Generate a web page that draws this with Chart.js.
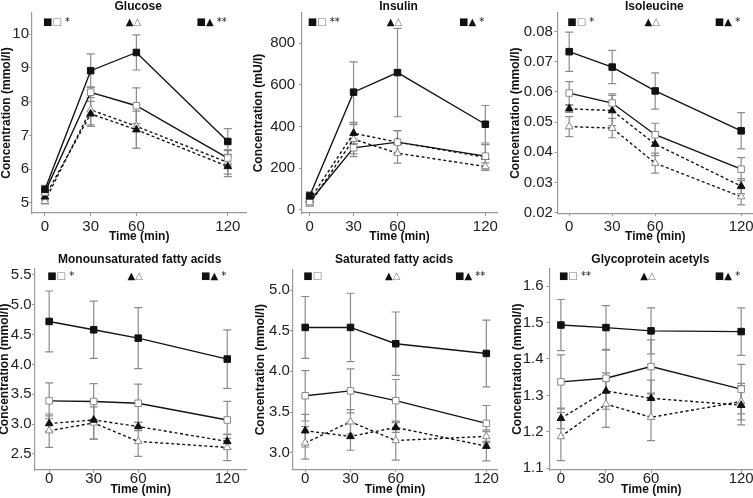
<!DOCTYPE html>
<html><head><meta charset="utf-8">
<script src="https://cdn.jsdelivr.net/npm/chart.js@4.4.1/dist/chart.umd.min.js"></script>
<style>
html,body{margin:0;padding:0;background:#fff;}
#wrap{position:relative;width:753px;height:498px;overflow:hidden;background:#fff;}
#wrap canvas{position:absolute;display:block;}
</style></head><body><div id="wrap"></div>
<script>
// ---------- DATA ----------
const times = [0, 30, 60, 120];
const xTickValues = [0, 30, 60, 120];

const panelTitles = ['Glucose', 'Insulin', 'Isoleucine', 'Monounsaturated fatty acids', 'Saturated fatty acids', 'Glycoprotein acetyls'];
const yAxisTitles = ['Concentration (mmol/l)', 'Concentration (mU/l)', 'Concentration (mmol/l)', 'Concentration (mmol/l)', 'Concentration (mmol/l)', 'Concentration (mmol/l)'];
const xAxisTitle = 'Time (min)';

// significance annotations (left, middle, right)
const glucoseMarks = ['■□ *', '▲△', '■▲ **'];
const insulinMarks = ['■□ **', '▲△', '■▲ *'];
const isoleucineMarks = ['■□ *', '▲△', '■▲ *'];
const monoMarks = ['■□ *', '▲△', '■▲ *'];
const saturatedMarks = ['■□', '▲△', '■▲ **'];
const glycMarks = ['■□ **', '▲△', '■▲ *'];

// y tick values
const glucoseTicks = [5, 6, 7, 8, 9, 10];
const insulinTicks = [0, 200, 400, 600, 800];
const isoleucineTicks = [0.02, 0.03, 0.04, 0.05, 0.06, 0.07, 0.08];
const monoTicks = [2.5, 3.0, 3.5, 4.0, 4.5, 5.0, 5.5];
const saturatedTicks = [3.0, 3.5, 4.0, 4.5, 5.0];
const glycTicks = [1.1, 1.2, 1.3, 1.4, 1.5, 1.6];

// series: FS = filled square, OS = open square, FT = filled triangle, OT = open triangle
const glucoseFS = [5.40, 8.92, 9.46, 6.82];   const glucoseFSerr = [0.12, 0.50, 0.52, 0.38];
const glucoseOS = [5.32, 8.28, 7.88, 6.33];   const glucoseOSerr = [0.10, 0.16, 0.53, 0.25];
const glucoseFT = [5.18, 7.64, 7.17, 6.08];   const glucoseFTerr = [0.10, 0.37, 0.55, 0.30];
const glucoseOT = [5.05, 7.76, 7.27, 6.20];   const glucoseOTerr = [0.08, 0.45, 0.65, 0.35];

const insulinFS = [67, 565, 659, 411];        const insulinFSerr = [20, 145, 212, 90];
const insulinOS = [40, 298, 325, 258];        const insulinOSerr = [12, 42, 55, 55];
const insulinFT = [48, 368, 325, 253];        const insulinFTerr = [12, 50, 55, 62];
const insulinOT = [29, 339, 272, 208];        const insulinOTerr = [10, 70, 48, 18];

const isoleucineFS = [0.0733, 0.0682, 0.0603, 0.0471]; const isoleucineFSerr = [0.0065, 0.0055, 0.0060, 0.0060];
const isoleucineOS = [0.0596, 0.0563, 0.0458, 0.0344]; const isoleucineOSerr = [0.0038, 0.0030, 0.0038, 0.0038];
const isoleucineFT = [0.0544, 0.0538, 0.0427, 0.0288]; const isoleucineFTerr = [0.0012, 0.0050, 0.0038, 0.0025];
const isoleucineOT = [0.0485, 0.0480, 0.0364, 0.0253]; const isoleucineOTerr = [0.0033, 0.0032, 0.0033, 0.0027];

const monoFS = [4.72, 4.58, 4.44, 4.09];      const monoFSerr = [0.51, 0.48, 0.51, 0.49];
const monoOS = [3.39, 3.38, 3.35, 3.07];      const monoOSerr = [0.30, 0.30, 0.32, 0.31];
const monoFT = [3.01, 3.07, 2.96, 2.71];      const monoFTerr = [0.13, 0.32, 0.07, 0.12];
const monoOT = [2.89, 3.02, 2.71, 2.61];      const monoOTerr = [0.28, 0.27, 0.25, 0.22];

const saturatedFS = [4.54, 4.54, 4.34, 4.22]; const saturatedFSerr = [0.38, 0.42, 0.39, 0.41];
const saturatedOS = [3.70, 3.76, 3.64, 3.36]; const saturatedOSerr = [0.31, 0.27, 0.26, 0.22];
const saturatedFT = [3.27, 3.20, 3.31, 3.08]; const saturatedFTerr = [0.20, 0.17, 0.06, 0.18];
const saturatedOT = [3.12, 3.38, 3.15, 3.20]; const saturatedOTerr = [0.20, 0.15, 0.24, 0.08];

const glycFS = [1.493, 1.486, 1.477, 1.475];  const glycFSerr = [0.070, 0.060, 0.063, 0.065];
const glycOS = [1.337, 1.347, 1.379, 1.317];  const glycOSerr = [0.074, 0.077, 0.073, 0.068];
const glycFT = [1.237, 1.312, 1.292, 1.273];  const glycFTerr = [0.028, 0.050, 0.050, 0.054];
const glycOT = [1.187, 1.276, 1.240, 1.283];  const glycOTerr = [0.066, 0.064, 0.064, 0.050];

// ---------- LAYOUT (absolute page px) ----------
const layouts = [
  {left:-1,    top:0,   w:253, h:250, cl:32,    cr:247,   ct:13,    cb:213,   xTitleY:236.7, titleY:6.5, markY:22.3,  xmin:-8.5,  xmax:132.2, ymin:4.70,   ymax:10.63,  yPad:0,   xPad:1.7,  dec:0},
  {left:250.8, top:0,   w:252, h:250, cl:301.7, cr:497,   ct:13,    cb:213,   xTitleY:236.7, titleY:6.5, markY:22.3,  xmin:-5.3,  xmax:128.1, ymin:-15,    ymax:945,    yPad:3.7, xPad:1.7,  dec:0},
  {left:507.8, top:0,   w:262, h:250, cl:557.3, cr:753,   ct:13,    cb:213.3, xTitleY:236.7, titleY:6.5, markY:22.3,  xmin:-8.16, xmax:128.4, ymin:0.0198, ymax:0.0861, yPad:1.6, xPad:1.4,  dec:2},
  {left:-3,    top:250, w:255, h:248, cl:35,    cr:248.3, ct:268.3, cb:470,   xTitleY:490,   titleY:260, markY:276.7, xmin:-9.55, xmax:132.9, ymin:2.232,  ymax:5.61,   yPad:0.3, xPad:-3.3, dec:1},
  {left:252.8, top:250, w:252, h:248, cl:292.7, cr:497,   ct:270,   cb:469.3, xTitleY:490,   titleY:260, markY:276.7, xmin:-8.15, xmax:127.2, ymin:2.796,  ymax:5.246,  yPad:0,   xPad:-2.3, dec:1},
  {left:509.8, top:250, w:262, h:248, cl:549.3, cr:753,   ct:268.3, cb:470,   xTitleY:490,   titleY:260, markY:276.7, xmin:-7.6,  xmax:128,   ymin:1.0953, ymax:1.6486, yPad:3,   xPad:-3.3, dec:1}
];

const panelSeries = [
  [[glucoseFS, glucoseFSerr], [glucoseOS, glucoseOSerr], [glucoseFT, glucoseFTerr], [glucoseOT, glucoseOTerr]],
  [[insulinFS, insulinFSerr], [insulinOS, insulinOSerr], [insulinFT, insulinFTerr], [insulinOT, insulinOTerr]],
  [[isoleucineFS, isoleucineFSerr], [isoleucineOS, isoleucineOSerr], [isoleucineFT, isoleucineFTerr], [isoleucineOT, isoleucineOTerr]],
  [[monoFS, monoFSerr], [monoOS, monoOSerr], [monoFT, monoFTerr], [monoOT, monoOTerr]],
  [[saturatedFS, saturatedFSerr], [saturatedOS, saturatedOSerr], [saturatedFT, saturatedFTerr], [saturatedOT, saturatedOTerr]],
  [[glycFS, glycFSerr], [glycOS, glycOSerr], [glycFT, glycFTerr], [glycOT, glycOTerr]]
];
const panelTicks = [glucoseTicks, insulinTicks, isoleucineTicks, monoTicks, saturatedTicks, glycTicks];
const panelMarks = [glucoseMarks, insulinMarks, isoleucineMarks, monoMarks, saturatedMarks, glycMarks];

const seriesStyles = [
  {pointStyle:'rect',     radius:4.6, bg:'#111', border:'#111', dash:[]},
  {pointStyle:'rect',     radius:4.6, bg:'#fff', border:'#8a8a8a', dash:[]},
  {pointStyle:'triangle', radius:4.4, bg:'#111', border:'#111', dash:[3, 2.5]},
  {pointStyle:'triangle', radius:4.4, bg:'#fff', border:'#8a8a8a', dash:[3, 2.5]}
];

const FONT = "'Liberation Sans', Arial, sans-serif";
const SYMFONT = "'DejaVu Sans', sans-serif";

function drawMarkGroup(ctx, text, x, y, align) {
  ctx.font = '10px ' + SYMFONT;
  const parts = Array.from(text);
  let total = 0;
  parts.forEach(ch => total += ctx.measureText(ch).width);
  let cx = align === 'left' ? x : align === 'center' ? x - total / 2 : x - total;
  ctx.textAlign = 'left';
  ctx.textBaseline = 'middle';
  parts.forEach(ch => {
    ctx.fillStyle = (ch === '□' || ch === '△') ? '#7a7a7a' : '#111';
    ctx.fillText(ch, cx, y);
    cx += ctx.measureText(ch).width;
  });
}

const decor = {
  id: 'decor',
  beforeDatasetsDraw(chart) {
    const ctx = chart.ctx, xs = chart.scales.x, ys = chart.scales.y;
    ctx.save();
    ctx.strokeStyle = '#8c8c8c';
    ctx.lineWidth = 1.2;
    chart.data.datasets.forEach(ds => {
      ds.data.forEach((p, i) => {
        const e = ds.errors[i];
        const x = xs.getPixelForValue(p.x);
        const y1 = ys.getPixelForValue(p.y + e);
        const y2 = ys.getPixelForValue(p.y - e);
        ctx.beginPath();
        ctx.moveTo(x, y1); ctx.lineTo(x, y2);
        ctx.moveTo(x - 4, y1); ctx.lineTo(x + 4, y1);
        ctx.moveTo(x - 4, y2); ctx.lineTo(x + 4, y2);
        ctx.stroke();
      });
    });
    ctx.restore();
  },
  afterDraw(chart) {
    const o = chart.options.plugins.decor;
    const ctx = chart.ctx, xs = chart.scales.x, area = chart.chartArea;
    ctx.save();
    ctx.fillStyle = '#111';
    ctx.font = 'bold 12px ' + FONT;
    ctx.textAlign = 'center';
    ctx.textBaseline = 'middle';
    ctx.fillText(o.title, (area.left + area.right) / 2 - 1, o.titleY);
    const my = area.top + o.markDy;
    drawMarkGroup(ctx, o.marks[0], xs.getPixelForValue(times[0]) - 2, my, 'left');
    drawMarkGroup(ctx, o.marks[1], xs.getPixelForValue(times[2]) - 3, my, 'center');
    drawMarkGroup(ctx, o.marks[2], xs.getPixelForValue(times[3]) - 1, my, 'right');
    ctx.restore();
  }
};

const wrap = document.getElementById('wrap');
layouts.forEach((L, idx) => {
  const cv = document.createElement('canvas');
  cv.width = L.w; cv.height = L.h;
  cv.style.left = L.left + 'px'; cv.style.top = L.top + 'px';
  cv.style.width = L.w + 'px'; cv.style.height = L.h + 'px';
  wrap.appendChild(cv);

  const yAxisWidth = L.cl - L.left;
  const padTop = L.ct - L.top;
  const padRight = (L.left + L.w) - L.cr;
  const scaleBottom = (L.xTitleY - L.top) + 7.2;
  const padBottom = L.h - scaleBottom;
  const xAxisHeight = scaleBottom - (L.cb - L.top);

  const datasets = panelSeries[idx].map((s, k) => {
    const st = seriesStyles[k];
    return {
      data: times.map((t, i) => ({x: t, y: s[0][i]})),
      errors: s[1],
      borderColor: '#141414',
      borderWidth: 1.4,
      borderDash: st.dash,
      pointStyle: st.pointStyle,
      pointRadius: st.radius,
      pointBackgroundColor: st.bg,
      pointBorderColor: st.border,
      pointBorderWidth: 1,
      tension: 0,
      fill: false,
      clip: false
    };
  });

  const ticks = panelTicks[idx];
  new Chart(cv, {
    type: 'line',
    data: {datasets},
    plugins: [decor],
    options: {
      responsive: false,
      animation: false,
      devicePixelRatio: 1,
      layout: {padding: {left: 0, top: padTop, right: padRight, bottom: padBottom}},
      plugins: {
        legend: {display: false},
        tooltip: {enabled: false},
        title: {display: false},
        decor: {title: panelTitles[idx], titleY: L.titleY - L.top, markDy: L.markY - L.ct, marks: panelMarks[idx]}
      },
      scales: {
        x: {
          type: 'linear',
          min: L.xmin, max: L.xmax,
          afterBuildTicks: sc => { sc.ticks = xTickValues.map(v => ({value: v})); },
          afterFit: sc => { sc.height = xAxisHeight; },
          grid: {display: true, drawOnChartArea: false, drawTicks: true, tickLength: 3, color: '#9a9a9a', lineWidth: 1},
          border: {display: true, color: '#9a9a9a', width: 1.2},
          ticks: {padding: L.xPad, maxRotation: 0, autoSkip: false, color: '#222', font: {family: FONT, size: 15},
                  callback: v => String(v)},
          title: {display: true, text: xAxisTitle, color: '#111', padding: 0, font: {family: FONT, size: 12, weight: 'bold', lineHeight: 1.2}}
        },
        y: {
          type: 'linear',
          min: L.ymin, max: L.ymax,
          afterBuildTicks: sc => { sc.ticks = ticks.map(v => ({value: v})); },
          afterFit: sc => { sc.width = yAxisWidth; },
          grid: {display: true, drawOnChartArea: false, drawTicks: true, tickLength: 3, color: '#9a9a9a', lineWidth: 1},
          border: {display: true, color: '#9a9a9a', width: 1.2},
          ticks: {padding: L.yPad, autoSkip: false, color: '#222', font: {family: FONT, size: 15},
                  callback: v => Number(v).toFixed(L.dec)},
          title: {display: true, text: yAxisTitles[idx], color: '#111', padding: 0, font: {family: FONT, size: 12, weight: 'bold', lineHeight: 1.2}}
        }
      }
    }
  });
});
</script>
</body></html>
